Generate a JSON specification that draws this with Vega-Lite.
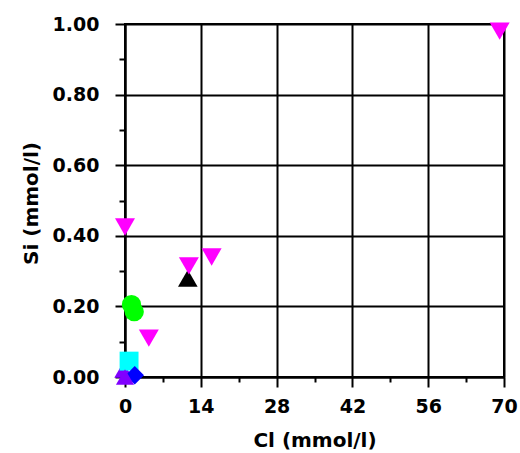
{
  "$schema": "https://vega.github.io/schema/vega-lite/v6.json",
  "width": 379,
  "height": 353,
  "autosize": "none",
  "padding": {"left": 125, "top": 24, "right": 16, "bottom": 76},
  "background": "white",
  "config": {
    "view": {"stroke": "black", "strokeWidth": 2},
    "axis": {
      "labelFont": "DejaVu Sans",
      "labelFontWeight": "bold",
      "labelFontSize": 19,
      "labelColor": "black",
      "titleFont": "DejaVu Sans",
      "titleFontWeight": "bold",
      "titleFontSize": 20,
      "titleColor": "black",
      "domainColor": "black",
      "domainWidth": 2,
      "tickColor": "black",
      "tickWidth": 2,
      "gridColor": "black",
      "gridWidth": 2,
      "labelOverlap": false,
      "labelFlush": false
    }
  },
  "data": {
    "values": [
      {"Cl": 69.2, "Si": 0.98, "group": "A"},
      {"Cl": 0.0, "Si": 0.425, "group": "A"},
      {"Cl": 16.0, "Si": 0.34, "group": "A"},
      {"Cl": 11.6, "Si": 0.28, "group": "B"},
      {"Cl": 11.8, "Si": 0.315, "group": "A"},
      {"Cl": 4.4, "Si": 0.11, "group": "A"},
      {"Cl": 1.2, "Si": 0.205, "group": "C"},
      {"Cl": 1.7, "Si": 0.185, "group": "C"},
      {"Cl": -0.3, "Si": 0.02, "group": "F"},
      {"Cl": 0.75, "Si": 0.045, "group": "D"},
      {"Cl": 1.8, "Si": 0.005, "group": "E"},
      {"Cl": 0.0, "Si": 0.0, "group": "F"}
    ]
  },
  "mark": {"type": "point", "filled": true, "opacity": 1, "clip": false},
  "encoding": {
    "x": {
      "field": "Cl",
      "type": "quantitative",
      "title": "Cl (mmol/l)",
      "scale": {"domain": [0, 70], "nice": false, "zero": false},
      "axis": {
        "values": [0, 7, 14, 21, 28, 35, 42, 49, 56, 63, 70],
        "labelExpr": "datum.value % 14 === 0 ? datum.label : ''",
        "tickSize": {"condition": {"test": "datum.value % 14 !== 0", "value": 5}, "value": 10},
        "gridOpacity": {"condition": {"test": "datum.value % 14 !== 0", "value": 0}, "value": 1},
        "labelPadding": 10,
        "titleY": 63,
        "titleBaseline": "middle"
      }
    },
    "y": {
      "field": "Si",
      "type": "quantitative",
      "title": "Si (mmol/l)",
      "scale": {"domain": [0, 1], "nice": false, "zero": false},
      "axis": {
        "values": [0, 0.1, 0.2, 0.3, 0.4, 0.5, 0.6, 0.7, 0.8, 0.9, 1.0],
        "format": ".2f",
        "labelExpr": "round(datum.value * 10) % 2 === 0 ? datum.label : ''",
        "tickSize": {"condition": {"test": "round(datum.value * 10) % 2 !== 0", "value": 6}, "value": 10},
        "gridOpacity": {"condition": {"test": "round(datum.value * 10) % 2 !== 0", "value": 0}, "value": 1},
        "labelPadding": 16,
        "titleX": -94,
        "titleY": 179,
        "titleBaseline": "middle",
        "titleAlign": "center"
      }
    },
    "color": {
      "field": "group",
      "type": "nominal",
      "legend": null,
      "scale": {
        "domain": ["A", "B", "C", "D", "E", "F"],
        "range": ["#FF00FF", "#000000", "#00FF00", "#00FFFF", "#0000FF", "#8000FF"]
      }
    },
    "shape": {
      "field": "group",
      "type": "nominal",
      "legend": null,
      "scale": {
        "domain": ["A", "B", "C", "D", "E", "F"],
        "range": ["triangle-down", "triangle-up", "circle", "square", "diamond", "triangle-up"]
      }
    },
    "size": {
      "field": "group",
      "type": "nominal",
      "legend": null,
      "scale": {
        "domain": ["A", "B", "C", "D", "E", "F"],
        "range": [400, 330, 200, 361, 225, 361]
      }
    },
    "order": {"value": 0}
  }
}
